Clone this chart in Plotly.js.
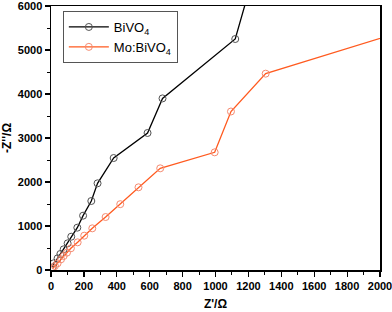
<!DOCTYPE html>
<html>
<head>
<meta charset="utf-8">
<script src="https://cdn.plot.ly/plotly-3.0.1.min.js"></script>
<style>html,body{margin:0;padding:0;background:#fff;}#chart{width:392px;height:312px;}</style>
</head>
<body>
<div id="chart"></div>
<script>
const seriesNames = ["BiVO<sub>4</sub>", "Mo:BiVO<sub>4</sub>"];
const bivo4X = [10, 16, 40, 57, 77, 101, 123, 160, 195, 245, 283, 381, 587, 678, 1120, 1200];
const bivo4Y = [60, 152, 265, 364, 470, 606, 757, 962, 1235, 1568, 1970, 2545, 3114, 3900, 5250, 6300];
const moX = [10, 24, 40, 61, 77, 97, 121, 162, 202, 251, 332, 421, 532, 664, 995, 1094, 1305, 2100];
const moY = [30, 91, 152, 243, 318, 394, 493, 629, 780, 947, 1204, 1496, 1879, 2311, 2674, 3602, 4462, 5380];
const xTicks = [0, 200, 400, 600, 800, 1000, 1200, 1400, 1600, 1800, 2000];
const yTicks = [0, 1000, 2000, 3000, 4000, 5000, 6000];

const FONT = "Liberation Sans, Arial, sans-serif";
const traces = [
  {x: bivo4X, y: bivo4Y, name: seriesNames[0], type: "scatter", mode: "lines+markers",
   line: {color: "#000000", width: 1.3},
   marker: {symbol: "circle-open", size: 7, color: "#505050", line: {width: 1}}},
  {x: moX, y: moY, name: seriesNames[1], type: "scatter", mode: "lines+markers",
   line: {color: "#ff5a1f", width: 1.3},
   marker: {symbol: "circle-open", size: 7, color: "#f58a70", line: {width: 1}}}
];
const axisBase = {
  showline: true, linecolor: "#000", linewidth: 1.5, mirror: true,
  ticks: "outside", ticklen: 5, tickwidth: 1.2, tickcolor: "#000",
  showgrid: false, zeroline: false, ticklabeloverflow: "allow",
  tickfont: {family: FONT, size: 11, color: "#000", weight: "bold"},
};
const layout = {
  width: 392, height: 312,
  margin: {l: 51, r: 12, t: 6, b: 42},
  paper_bgcolor: "#fff", plot_bgcolor: "#fff",
  font: {family: FONT, color: "#000"},
  showlegend: true,
  legend: {x: 0.036, y: 0.981, xanchor: "left", yanchor: "top",
    bgcolor: "#fff", bordercolor: "#555", borderwidth: 1,
    font: {family: FONT, size: 13, color: "#000"}, itemwidth: 40, tracegroupgap: 2},
  xaxis: Object.assign({}, axisBase, {
    range: [0, 2000], tickvals: xTicks, ticktext: xTicks.map(String),
    minor: {dtick: 100, ticks: "outside", ticklen: 3, tickwidth: 1, tickcolor: "#000"},
    title: {text: "<b>Z'/Ω</b>", font: {family: FONT, size: 12, color: "#000"}, standoff: 9}
  }),
  yaxis: Object.assign({}, axisBase, {
    range: [0, 6000], tickvals: yTicks, ticktext: yTicks.map(String),
    minor: {dtick: 500, ticks: "outside", ticklen: 3, tickwidth: 1, tickcolor: "#000"},
    title: {text: "<b>-Z''/Ω</b>", font: {family: FONT, size: 12, color: "#000"}, standoff: 6}
  })
};
Plotly.newPlot("chart", traces, layout, {displayModeBar: false, staticPlot: true});
</script>
</body>
</html>
